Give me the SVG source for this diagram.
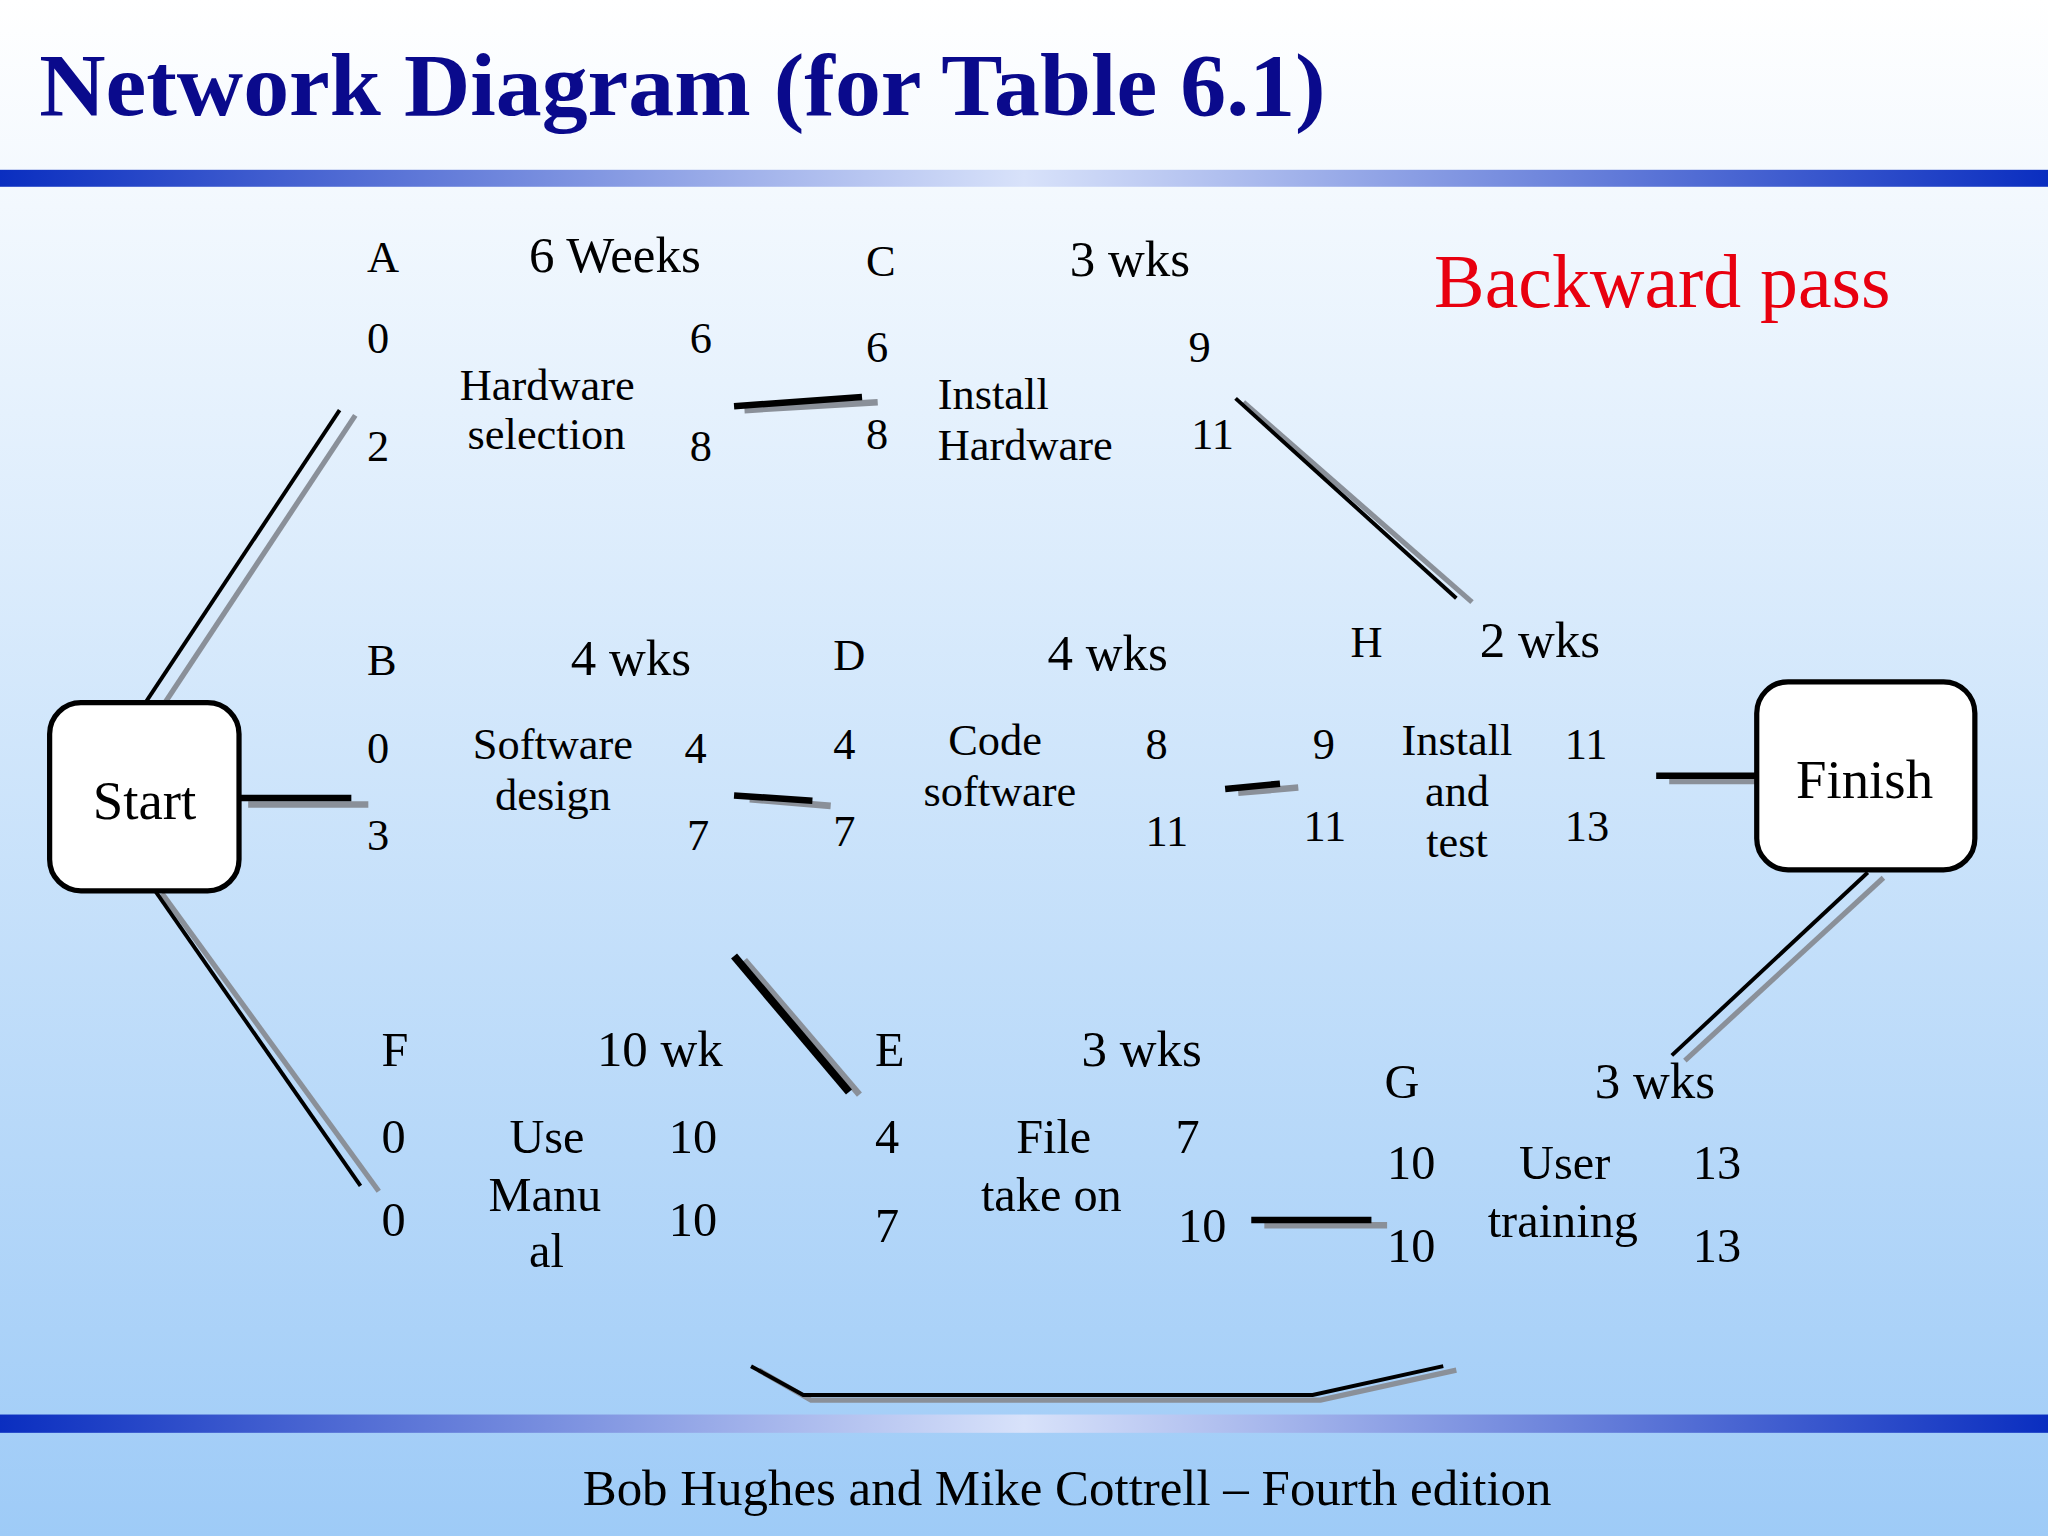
<svg xmlns="http://www.w3.org/2000/svg" width="2048" height="1536" viewBox="0 0 2048 1536">
<defs>
<linearGradient id="bg" x1="0" y1="0" x2="0" y2="1"><stop offset="0" stop-color="#ffffff"/><stop offset="1" stop-color="#9ecbf7"/></linearGradient>
<linearGradient id="bar" x1="0" y1="0" x2="1" y2="0"><stop offset="0" stop-color="#0a2ec0"/><stop offset="0.5" stop-color="#d8e2fa"/><stop offset="1" stop-color="#0a2ec0"/></linearGradient>
<style>
text{font-family:"Liberation Serif","Times New Roman",serif;font-size:34px;fill:#000}
.t{font-size:68px;font-weight:bold;fill:#0a0a8c}
.bp{font-size:58px;fill:#e8000f}
.ft{font-size:39px}
.nb{font-size:42px}
.w{font-size:39px}
.lo text{font-size:37px}
.lo text.w{font-size:39px}
.box{fill:#fff;stroke:#000;stroke-width:4}
.k{stroke:#000;stroke-width:3;fill:none}
.g{stroke:#8a9099;stroke-width:4;fill:none}
.th{stroke-width:5}
</style>
</defs>
<rect width="2048" height="1536" fill="url(#bg)"/>
<g transform="scale(1.306122)">
<text class="t" x="30" y="88" textLength="985" lengthAdjust="spacingAndGlyphs">Network Diagram (for Table 6.1)</text>
<rect x="0" y="130" width="1568" height="13" fill="url(#bar)"/>
<rect x="0" y="1083" width="1568" height="14" fill="url(#bar)"/>
<text class="ft" x="817" y="1152" text-anchor="middle">Bob Hughes and Mike Cottrell – Fourth edition</text>
<text class="bp" x="1098" y="235">Backward pass</text>
<g id="connectors">
<path class="g" d="M125 540L272 318"/><path class="k" d="M112 537L260 314"/>
<path class="g th" d="M190 616H282"/><path class="k th" d="M180 611H269"/>
<path class="g" d="M124 684L290 912"/><path class="k" d="M118 681L276 908"/>
<path class="g th" d="M570 314L672 308"/><path class="k th" d="M562 311L660 304"/>
<path class="g" d="M952 308L1127 461"/><path class="k" d="M946 305L1115 458"/>
<path class="g th" d="M574 612L636 617"/><path class="k th" d="M562 609L622 613"/>
<path class="g th" d="M570 735L658 838"/><path class="k" style="stroke-width:6" d="M562 732L650 836"/>
<path class="g th" d="M948 607L994 603"/><path class="k th" d="M938 604L980 600"/>
<path class="g th" d="M1278 598H1358"/><path class="k th" d="M1268 594H1344"/>
<path class="g th" d="M968 938H1062"/><path class="k th" d="M958 934H1050"/>
<path class="g" d="M1290 812L1442 672"/><path class="k" d="M1280 808L1430 668"/>
<path class="g" d="M581 1049L621 1072H1011L1115 1049"/><path class="k" d="M575 1046L615 1068H1005L1105 1046"/>
</g>
<g id="start"><rect class="box" x="38" y="538" width="145" height="144" rx="24"/><text class="nb" x="71" y="627">Start</text></g>
<g id="finish"><rect class="box" x="1345" y="522" width="167" height="144" rx="24"/><text class="nb" x="1375" y="611">Finish</text></g>
<g id="A"><text x="281" y="208">A</text><text class="w" x="405" y="208">6 Weeks</text><text x="281" y="270">0</text><text x="528" y="270">6</text><text x="352" y="306">Hardware</text><text x="358" y="344">selection</text><text x="281" y="353">2</text><text x="528" y="353">8</text></g>
<g id="C"><text x="663" y="211">C</text><text class="w" x="819" y="211">3 wks</text><text x="663" y="277">6</text><text x="910" y="277">9</text><text x="718" y="313">Install</text><text x="718" y="352">Hardware</text><text x="663" y="344">8</text><text x="912" y="344">11</text></g>
<g id="B"><text x="281" y="517">B</text><text class="w" x="437" y="517">4 wks</text><text x="281" y="584">0</text><text x="362" y="581">Software</text><text x="524" y="584">4</text><text x="379" y="620">design</text><text x="281" y="651">3</text><text x="526" y="651">7</text></g>
<g id="D"><text x="638" y="513">D</text><text class="w" x="802" y="513">4 wks</text><text x="638" y="581">4</text><text x="726" y="578">Code</text><text x="877" y="581">8</text><text x="707" y="617">software</text><text x="638" y="648">7</text><text x="877" y="648">11</text></g>
<g id="H"><text x="1034" y="503">H</text><text class="w" x="1133" y="503">2 wks</text><text x="1005" y="581">9</text><text x="1073" y="578">Install</text><text x="1198" y="581">11</text><text x="1091" y="617">and</text><text x="998" y="644">11</text><text x="1198" y="644">13</text><text x="1092" y="656">test</text></g>
<g class="lo">
<g id="F"><text x="292" y="816">F</text><text class="w" x="457" y="816">10 wk</text><text x="292" y="883">0</text><text x="390" y="883">Use</text><text x="512" y="883">10</text><text x="374" y="927">Manu</text><text x="292" y="946">0</text><text x="512" y="946">10</text><text x="405" y="970">al</text></g>
<g id="E"><text x="670" y="816">E</text><text class="w" x="828" y="816">3 wks</text><text x="670" y="883">4</text><text x="778" y="883">File</text><text x="900" y="883">7</text><text x="751" y="927">take on</text><text x="670" y="951">7</text><text x="902" y="951">10</text></g>
<g id="G"><text x="1060" y="841">G</text><text class="w" x="1221" y="841">3 wks</text><text x="1062" y="903">10</text><text x="1163" y="903">User</text><text x="1296" y="903">13</text><text x="1139" y="947">training</text><text x="1062" y="966">10</text><text x="1296" y="966">13</text></g>
</g>
</g>
</svg>
